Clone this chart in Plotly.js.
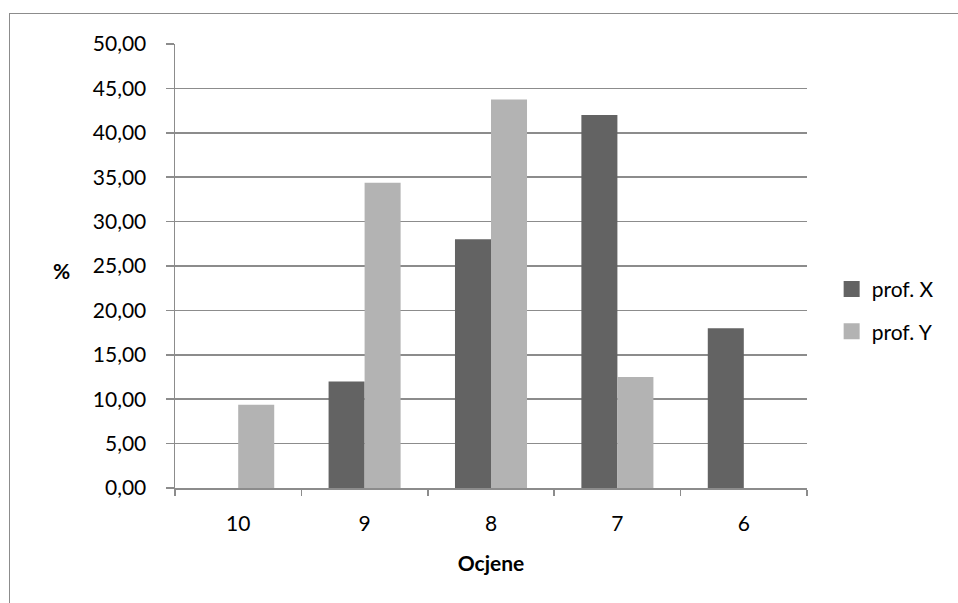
<!DOCTYPE html>
<html>
<head>
<meta charset="utf-8">
<script src="https://cdn.plot.ly/plotly-3.0.1.min.js"></script>
<style>
html,body{margin:0;padding:0;background:#fff;overflow:hidden;}
#frame{position:absolute;left:9px;top:13px;width:2000px;height:2000px;border-left:1.5px solid #8c8c8c;border-top:1.5px solid #8c8c8c;}
#chart{position:absolute;left:0;top:0;width:958px;height:603px;}
</style>
</head>
<body>
<div id="frame"></div>
<div id="chart"></div>
<script>
const categories = ["10", "9", "8", "7", "6"];
const seriesNames = ["prof. X", "prof. Y"];
const profX = [null, 12.00, 28.00, 42.00, 18.00];
const profY = [9.38, 34.38, 43.75, 12.50, null];
const seriesColors = ["#636363", "#b3b3b3"];
const yTicks = [0, 5, 10, 15, 20, 25, 30, 35, 40, 45, 50];

const fontFam = "Lato, 'Open Sans', sans-serif";
const fs = 21;

const traces = [
  {type: "bar", name: seriesNames[0], x: categories, y: profX, showlegend: false,
   marker: {color: seriesColors[0], line: {width: 0}}},
  {type: "bar", name: seriesNames[1], x: categories, y: profY, showlegend: false,
   marker: {color: seriesColors[1], line: {width: 0}}},
  // legend entries (larger square swatches)
  {type: "scatter", mode: "markers", name: seriesNames[0], legendgroup: "a", x: [categories[0]], y: [null],
   marker: {symbol: "square", size: 17, color: seriesColors[0]}, hoverinfo: "skip"},
  {type: "scatter", mode: "markers", name: seriesNames[1], legendgroup: "b", x: [categories[0]], y: [null],
   marker: {symbol: "square", size: 17, color: seriesColors[1]}, hoverinfo: "skip"}
];

const layout = {
  width: 958, height: 603,
  paper_bgcolor: "rgba(0,0,0,0)", plot_bgcolor: "rgba(0,0,0,0)",
  margin: {l: 175, r: 151, t: 44, b: 115},
  separators: ",.",
  barmode: "group", bargap: 0.43, bargroupgap: 0,
  font: {family: fontFam, size: fs, color: "#000"},
  showlegend: true,
  legend: {x: 1.039, y: 0.40, xanchor: "left", yanchor: "middle",
           font: {family: fontFam, size: fs, color: "#000"},
           traceorder: "grouped", tracegroupgap: 12,
           itemwidth: 30, bgcolor: "rgba(0,0,0,0)"},
  xaxis: {type: "category", showgrid: false, zeroline: false,
          showline: true, linecolor: "#8c8c8c", linewidth: 1.5,
          ticks: "outside", tickson: "boundaries", ticklen: 6, tickcolor: "#8c8c8c", tickwidth: 1.5,
          tickfont: {family: fontFam, size: fs}, ticklabelstandoff: 16,
          title: {text: "<b>Ocjene</b>", font: {family: fontFam, size: fs}, standoff: 22}},
  yaxis: {range: [0, 50], tickvals: yTicks, tickformat: ".2f",
          showgrid: true, gridcolor: "#8c8c8c", gridwidth: 1.5,
          zeroline: false, showline: true, linecolor: "#8c8c8c", linewidth: 1.5,
          ticks: "outside", ticklen: 8, tickcolor: "#8c8c8c", tickwidth: 1.5,
          tickfont: {family: fontFam, size: fs}, ticklabelstandoff: 15},
  annotations: [
    {text: "<b>%</b>", xref: "paper", yref: "paper", x: -0.196, y: 0.49,
     showarrow: false, font: {family: fontFam, size: fs}}
  ]
};

Plotly.newPlot("chart", traces, layout, {displayModeBar: false, staticPlot: true});
</script>
</body>
</html>
